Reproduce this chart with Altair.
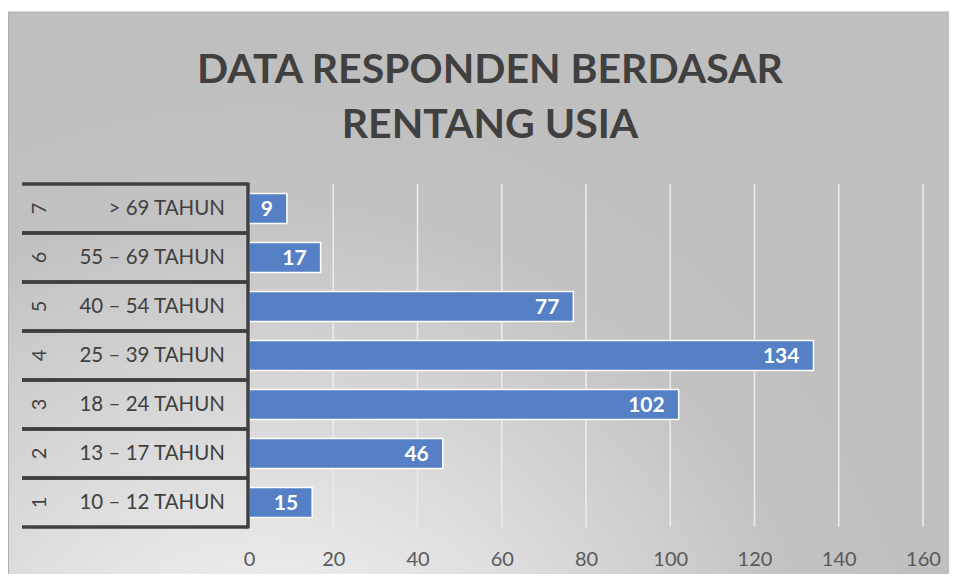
import altair as alt
import pandas as pd

nomor = [1, 2, 3, 4, 5, 6, 7]
rentang = ["10 – 12 TAHUN", "13 – 17 TAHUN", "18 – 24 TAHUN", "25 – 39 TAHUN",
           "40 – 54 TAHUN", "55 – 69 TAHUN", "> 69 TAHUN"]
jumlah = [15, 46, 102, 134, 77, 17, 9]
judul = ["DATA RESPONDEN BERDASAR", "RENTANG USIA"]
x_ticks = [0, 20, 40, 60, 80, 100, 120, 140, 160]

df = pd.DataFrame({"no": nomor, "label": rentang, "value": jumlah})
ticks_df = pd.DataFrame({"t": x_ticks})

W, H = 674, 343
PL, PT, PR, PB = 241, 176, 26, 47
FONT = "Lato"
DARK = "#404040"

base = alt.Chart(df)

y_scale = alt.Scale(domain=[0.5, 7.5])
x_scale = alt.Scale(domain=[0, 160])

bg = alt.Chart(pd.DataFrame({"k": [0]})).mark_rect(
    fill=alt.Gradient(
        gradient="radial",
        stops=[alt.GradientStop(offset=0, color="#ffffff"),
               alt.GradientStop(offset=0.35, color="#e4e4e4"),
               alt.GradientStop(offset=0.8, color="#c2c2c2"),
               alt.GradientStop(offset=1, color="#bfbfbf")],
        x1=0.27, y1=1.0, r1=0,
        x2=0.27, y2=1.0, r2=0.75,
    ),
    stroke="#b0b0b0", strokeWidth=1,
).encode(
    x=alt.value(-PL + 0.5), x2=alt.value(W + PR + 4),
    y=alt.value(-PT + 4), y2=alt.value(H + PB + 4),
)

grid = alt.Chart(ticks_df).mark_rule(color="#ebebeb", strokeWidth=1.6).encode(
    x=alt.X("t:Q", scale=x_scale,
            axis=alt.Axis(values=x_ticks, title=None, domain=False, ticks=False,
                          grid=False, labelFlush=False, labelOverlap=False,
                          labelFont=FONT, labelFontSize=20,
                          labelColor="#595959", labelPadding=22, zindex=1)),
    y=alt.value(0), y2=alt.value(H),
)

bars = base.transform_calculate(
    lo="datum.no - 0.306", hi="datum.no + 0.306"
).mark_bar(color="#5680c6", stroke="#ffffff", strokeWidth=1.5).encode(
    x=alt.X("value:Q", scale=x_scale),
    x2=alt.datum(0),
    y=alt.Y("lo:Q", scale=y_scale, axis=None),
    y2="hi:Q",
)

vals = base.mark_text(align="right", baseline="middle", dx=-14, dy=1, color="white",
                      font=FONT, fontWeight="bold", fontSize=21).encode(
    x=alt.X("value:Q", scale=x_scale),
    y=alt.Y("no:Q", scale=y_scale),
    text="value:Q",
)

cat_labels = base.mark_text(align="right", baseline="middle", font=FONT, fontSize=20.5,
                            color=DARK).encode(
    x=alt.value(-24),
    y=alt.Y("no:Q", scale=y_scale),
    text="label:N",
)

num_labels = base.mark_text(align="center", baseline="middle", angle=270, font=FONT,
                            fontSize=20, color=DARK).encode(
    x=alt.value(-209),
    y=alt.Y("no:Q", scale=y_scale),
    text="no:N",
)

sep_top = base.transform_calculate(b="datum.no + 0.5").mark_rule(
    color=DARK, strokeWidth=3.5).encode(
    x=alt.value(-227), x2=alt.value(-1),
    y=alt.Y("b:Q", scale=y_scale),
)
sep_bot = base.transform_calculate(b="datum.no - 0.5").mark_rule(
    color=DARK, strokeWidth=3.5).encode(
    x=alt.value(-227), x2=alt.value(-1),
    y=alt.Y("b:Q", scale=y_scale),
)
vline = alt.Chart(pd.DataFrame({"k": [0]})).mark_rule(color=DARK, strokeWidth=3.5).encode(
    x=alt.value(-1), y=alt.value(-1.5), y2=alt.value(H + 1.5),
)

title = alt.Chart(pd.DataFrame({"k": [0]})).mark_text(
    text=judul, align="center", baseline="alphabetic", lineHeight=55,
    font=FONT, fontWeight="bold", fontSize=41, color=DARK,
).encode(x=alt.value(241), y=alt.value(-101))

chart = alt.layer(bg, grid, bars, vals, cat_labels, num_labels, sep_top, sep_bot,
                  vline, title).properties(
    width=W, height=H,
    autosize=alt.AutoSizeParams(type="none"),
    padding={"left": PL, "top": PT, "right": PR, "bottom": PB},
).configure_view(stroke=None).configure(background="white")

chart.save("out.html", embed_options={"renderer": "svg", "actions": False})
